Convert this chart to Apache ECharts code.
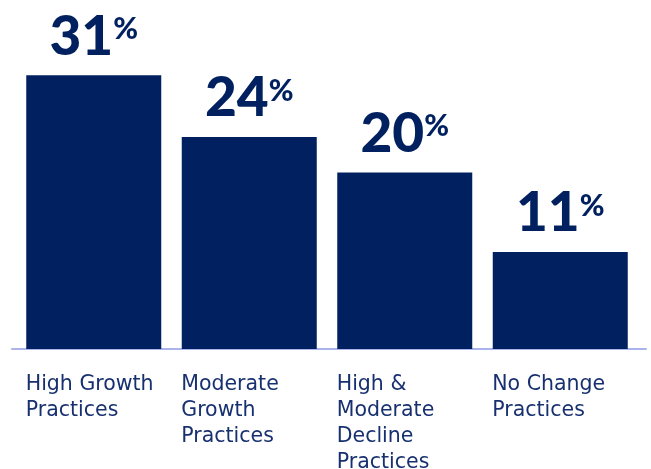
<!DOCTYPE html>
<html>
<head>
<meta charset="utf-8">
<script src="https://cdn.jsdelivr.net/npm/echarts@6/dist/echarts.min.js"></script>
<style>
  html, body { margin: 0; padding: 0; background: #ffffff; }
  #chart { width: 651px; height: 469px; }
</style>
</head>
<body>
<div id="chart"></div>
<script>
// Share of practices by growth category (%)
const categories = [
  'High Growth\nPractices',
  'Moderate\nGrowth\nPractices',
  'High &\nModerate\nDecline\nPractices',
  'No Change\nPractices'
];
const shares = [31, 24, 20, 11];

const NAVY = '#00205f';
const TEXT_NAVY = '#17306f';

const chart = echarts.init(document.getElementById('chart'), null, { renderer: 'canvas' });

chart.setOption({
  backgroundColor: '#ffffff',
  animation: false,
  grid: [
    { left: 16, right: 13, top: 40, bottom: 120, outerBoundsMode: 'none' },
    { left: 12, right: 5, top: 40, bottom: 120, outerBoundsMode: 'none' }
  ],
  xAxis: [
    {
      type: 'category',
      gridIndex: 0,
      data: categories,
      axisLine: { show: false },
      axisTick: { show: false },
      axisLabel: {
        interval: 0,
        margin: 23,
        width: 136,
        align: 'center',
        verticalAlign: 'top',
        formatter: function (v) {
          return v.split('\n').map(function (s) { return '{t|' + s + '}'; }).join('\n');
        },
        rich: {
          t: {
            align: 'left',
            fontFamily: 'DejaVu Sans',
            fontSize: 20.5,
            lineHeight: 26,
            color: TEXT_NAVY
          }
        }
      }
    },
    {
      // full-width baseline
      type: 'category',
      gridIndex: 1,
      data: [''],
      axisLine: { show: true, lineStyle: { color: '#aab4ea', width: 2 } },
      axisTick: { show: false },
      axisLabel: { show: false }
    }
  ],
  yAxis: [
    { type: 'value', gridIndex: 0, min: 0, max: 35, show: false },
    { type: 'value', gridIndex: 1, min: 0, max: 35, show: false }
  ],
  series: [
    {
      type: 'bar',
      xAxisIndex: 0,
      yAxisIndex: 0,
      data: shares,
      barWidth: 135,
      z: 3,
      itemStyle: { color: NAVY },
      label: {
        show: true,
        position: 'top',
        distance: 11,
        formatter: function (p) { return '{v|' + p.value + '}{p|%}'; },
        rich: {
          v: {
            fontFamily: 'Lato',
            fontWeight: 900,
            fontSize: 55,
            color: NAVY,
            lineHeight: 50,
            verticalAlign: 'bottom'
          },
          p: {
            fontFamily: 'Lato',
            fontWeight: 900,
            fontSize: 30,
            color: NAVY,
            lineHeight: 46,
            verticalAlign: 'top'
          }
        }
      }
    }
  ]
});
</script>
</body>
</html>
